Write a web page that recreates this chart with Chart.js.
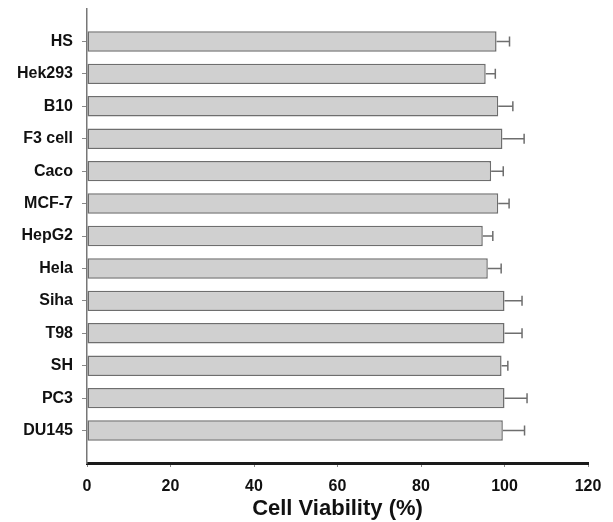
<!DOCTYPE html>
<html>
<head>
<meta charset="utf-8">
<script src="https://cdn.jsdelivr.net/npm/chart.js@4"></script>
<style>
html,body{margin:0;padding:0;background:#fff;}
#wrap{width:613px;height:522px;}
</style>
</head>
<body>
<div id="wrap"><canvas id="c" width="613" height="522"></canvas></div>
<script>
const categories = ['HS','Hek293','B10','F3 cell','Caco','MCF-7','HepG2','Hela','Siha','T98','SH','PC3','DU145'];
const viability = [98.1, 95.5, 98.5, 99.5, 96.8, 98.5, 94.8, 96.0, 100.0, 100.0, 99.3, 100.0, 99.6];
const errors = [3.1, 2.3, 3.5, 5.2, 2.9, 2.6, 2.4, 3.2, 4.2, 4.2, 1.5, 5.4, 5.2];
const xTicks = [0, 20, 40, 60, 80, 100, 120];

const FONT = "'Liberation Sans', Arial, sans-serif";

const errorBars = {
  id: 'errorBars',
  afterDatasetsDraw(chart) {
    const ctx = chart.ctx;
    const xs = chart.scales.x, ys = chart.scales.y;
    ctx.save();
    ctx.strokeStyle = '#6e6e6e';
    ctx.lineWidth = 1.5;
    viability.forEach((v, i) => {
      const x1 = xs.getPixelForValue(v);
      const x2 = xs.getPixelForValue(v + errors[i]);
      const y = ys.getPixelForValue(i);
      ctx.beginPath();
      ctx.moveTo(x1, y); ctx.lineTo(x2, y);
      ctx.moveTo(x2, y - 5); ctx.lineTo(x2, y + 5);
      ctx.stroke();
    });
    ctx.restore();
  }
};

new Chart(document.getElementById('c'), {
  type: 'bar',
  data: {
    datasets: [{
      data: viability.map((v, i) => ({x: v, y: i})),
      backgroundColor: '#d0d0d0',
      borderColor: '#6e6e6e',
      borderWidth: 1.5,
      borderSkipped: false,
      barPercentage: 0.63,
      categoryPercentage: 1.0
    }]
  },
  plugins: [errorBars],
  options: {
    indexAxis: 'y',
    responsive: false,
    animation: false,
    layout: {padding: {top: 9, right: 25, left: 0, bottom: 0}},
    plugins: {legend: {display: false}, tooltip: {enabled: false}},
    scales: {
      x: {
        type: 'linear',
        min: 0, max: 120,
        afterBuildTicks(axis) { axis.ticks = xTicks.map(v => ({value: v})); },
        afterFit(scale) { scale.height = 59; },
        border: {display: true, color: '#1a1a1a', width: 3},
        grid: {display: true, drawOnChartArea: false, tickLength: 4, tickColor: '#888', tickWidth: 1},
        ticks: {color: '#111', font: {family: FONT, size: 16, weight: 'bold'}, padding: 10, maxRotation: 0},
        title: {display: true, text: 'Cell Viability (%)', color: '#111',
                font: {family: FONT, size: 22, weight: 'bold'}, padding: {top: 2, bottom: 0}}
      },
      y: {
        type: 'linear',
        reverse: true,
        offset: false,
        min: -1, max: 13,
        afterBuildTicks(axis) { axis.ticks = categories.map((c, i) => ({value: i})); },
        afterFit(scale) { scale.width = 87; scale.paddingTop = 0; scale.paddingBottom = 0; },
        border: {display: true, color: '#777', width: 1.5},
        grid: {display: true, offset: false, drawOnChartArea: false, tickLength: 5, tickColor: '#888', tickWidth: 1},
        ticks: {color: '#111', font: {family: FONT, size: 16, weight: 'bold'}, padding: 9,
                callback: (v) => categories[v] !== undefined ? categories[v] : ''}
      }
    }
  }
});
</script>
</body>
</html>
